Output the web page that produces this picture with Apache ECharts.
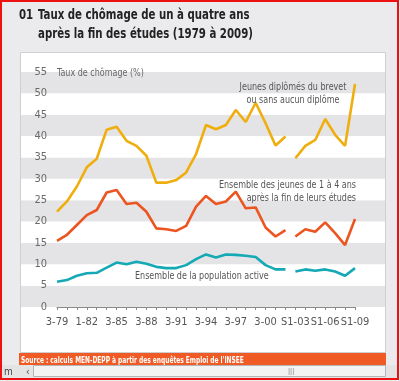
<!DOCTYPE html>
<html><head><meta charset="utf-8">
<script src="https://cdn.jsdelivr.net/npm/echarts@6/dist/echarts.min.js"></script>
<style>html,body{margin:0;padding:0;background:#ebebed}#c{width:400px;height:381px}</style>
</head><body><div id="c"></div>
<script>
// ---- data ----
const years1 = [1979,1980,1981,1982,1983,1984,1985,1986,1987,1988,1989,1990,1991,1992,1993,1994,1995,1996,1997,1998,1999,2000,2001,2002];
const years2 = [2003,2004,2005,2006,2007,2008,2009];
const jeunesBrevet1 = [22.3,24.7,28.2,32.7,34.7,41.5,42.2,38.9,37.7,35.4,29.1,29.1,29.7,31.5,35.8,42.6,41.6,42.6,46.1,43.3,47.8,43.0,37.8,39.9];
const jeunesBrevet2 = [34.8,37.7,39.1,44.0,40.3,37.7,52.2];
const ensembleJeunes1 = [15.5,16.9,19.2,21.5,22.7,26.8,27.4,24.1,24.4,22.3,18.4,18.2,17.8,19.0,23.5,26.0,24.1,24.7,27.0,23.1,23.3,18.6,16.5,18.0];
const ensembleJeunes2 = [16.5,18.2,17.6,19.8,17.3,14.5,20.6];
const populationActive1 = [5.9,6.3,7.3,7.9,8.0,9.2,10.4,10.0,10.6,10.1,9.4,9.1,9.1,9.8,11.2,12.3,11.6,12.3,12.2,12.0,11.7,9.8,8.8,8.8];
const populationActive2 = [8.3,8.8,8.5,8.8,8.3,7.3,9.1];
const tickYears = [1979,1982,1985,1988,1991,1994,1997,2000,2003,2006,2009];
const tickLabels = ['3-79','1-82','3-85','3-88','3-91','3-94','3-97','3-00','S1-03','S1-06','S1-09'];

const pair = (xs, ys) => xs.map((x, i) => [x, ys[i]]);
const FONT = "'Liberation Sans Narrow','DejaVu Sans Condensed','Liberation Sans',sans-serif";
const C_Y = '#f0ae0e', C_O = '#ec5520', C_T = '#14a9b4';
const SX = 0.81;

function line(data, color) {
  return { type: 'line', xAxisIndex: 1, yAxisIndex: 1, data, symbol: 'none',
    lineStyle: { color, width: 2.6 }, animation: false, z: 5 };
}
function txt(x, y, text, font, fill, align, extra) {
  return Object.assign({ type: 'text', x, y, scaleX: SX, z: 10,
    style: { text, fill, font, align: align || 'left', verticalAlign: 'top', lineHeight: 13 } }, extra || {});
}

const chart = echarts.init(document.getElementById('c'), null, { renderer: 'canvas' });
chart.setOption({
  animation: false,
  backgroundColor: '#ebebed',
  grid: [
    { left: 21, right: 15, top: 72, bottom: 74 },
    { left: 57, right: 45, top: 72, bottom: 74 }
  ],
  xAxis: [
    { gridIndex: 0, type: 'value', min: 0, max: 1, show: false },
    { gridIndex: 1, type: 'value', min: 1979, max: 2009, interval: 1,
      axisLine: { show: true, lineStyle: { color: '#8a8a8a', width: 1 } },
      axisTick: { show: true, length: 3, lineStyle: { color: '#8a8a8a' } },
      splitLine: { show: false },
      axisLabel: { color: '#555', fontFamily: FONT, fontSize: 11, margin: 10,
        formatter: v => { const i = tickYears.indexOf(Math.round(v)); return i >= 0 ? tickLabels[i] : ''; } } }
  ],
  yAxis: [
    { gridIndex: 0, type: 'value', min: 0, max: 55, interval: 5,
      axisLine: { show: false }, axisTick: { show: false }, axisLabel: { show: false },
      splitLine: { show: false },
      splitArea: { show: true, areaStyle: { color: ['#e4e4e6', '#ffffff'] } } },
    { gridIndex: 1, type: 'value', min: 0, max: 55, interval: 5,
      axisLine: { show: false }, axisTick: { show: false }, splitLine: { show: false },
      axisLabel: { color: '#6a6a6a', fontFamily: FONT, fontSize: 11, margin: 10 } }
  ],
  series: [
    line(pair(years1, jeunesBrevet1), C_Y),
    line(pair(years2, jeunesBrevet2), C_Y),
    line(pair(years1, ensembleJeunes1), C_O),
    line(pair(years2, ensembleJeunes2), C_O),
    line(pair(years1, populationActive1), C_T),
    line(pair(years2, populationActive2), C_T)
  ],
  graphic: [
    // white panel
    { type: 'rect', z: -10, shape: { x: 20.5, y: 52.5, width: 365, height: 300 },
      style: { fill: '#ffffff', stroke: '#cfcfd2', lineWidth: 1 } },
    // title
    txt(19, 9, '01', "bold 14px " + FONT, '#222'),
    txt(38, 9, 'Taux de chômage de un à quatre ans', "bold 14px " + FONT, '#222'),
    txt(38, 28, 'après la fin des études (1979 à 2009)', "bold 14px " + FONT, '#222'),
    // annotations
    txt(57, 67, 'Taux de chômage (%)', "11px " + FONT, '#666'),
    txt(293, 81, 'Jeunes diplômés du brevet\nou sans aucun diplôme', "11px " + FONT, '#555', 'center'),
    txt(356, 179, 'Ensemble des jeunes de 1 à 4 ans\naprès la fin de leurs études', "11px " + FONT, '#555', 'right'),
    txt(135, 270, 'Ensemble de la population active', "11px " + FONT, '#555'),
    // source bar
    { type: 'rect', z: 20, shape: { x: 19, y: 353, width: 367, height: 12 }, style: { fill: '#f05a24' } },
    txt(21, 354, "Source : calculs MEN-DEPP à partir des enquêtes Emploi de l'INSEE", "bold 9.5px " + FONT, '#fff', 'left', { z: 21, scaleX: 0.69 }),
    // scroll bar
    { type: 'rect', z: 20, shape: { x: 2, y: 365, width: 395, height: 14 }, style: { fill: '#e4e4e4' } },
    { type: 'rect', z: 21, shape: { x: 33.5, y: 365.5, width: 352, height: 11 }, style: { fill: '#f3f3f3', stroke: '#b5b5b5', lineWidth: 1 } },
    txt(4, 366, 'm', "10px " + FONT, '#444', 'left', { z: 22, scaleX: 1 }),
    txt(26, 366, '‹', "10px " + FONT, '#444', 'left', { z: 22, scaleX: 1 }),
    txt(288, 366, 'III', "8px " + FONT, '#999', 'left', { z: 22, scaleX: 1 }),
    // red frame
    { type: 'rect', z: 30, shape: { x: 1, y: 1, width: 397, height: 378 }, style: { fill: 'none', stroke: '#ee1111', lineWidth: 2 } }
  ]
});
</script></body></html>
